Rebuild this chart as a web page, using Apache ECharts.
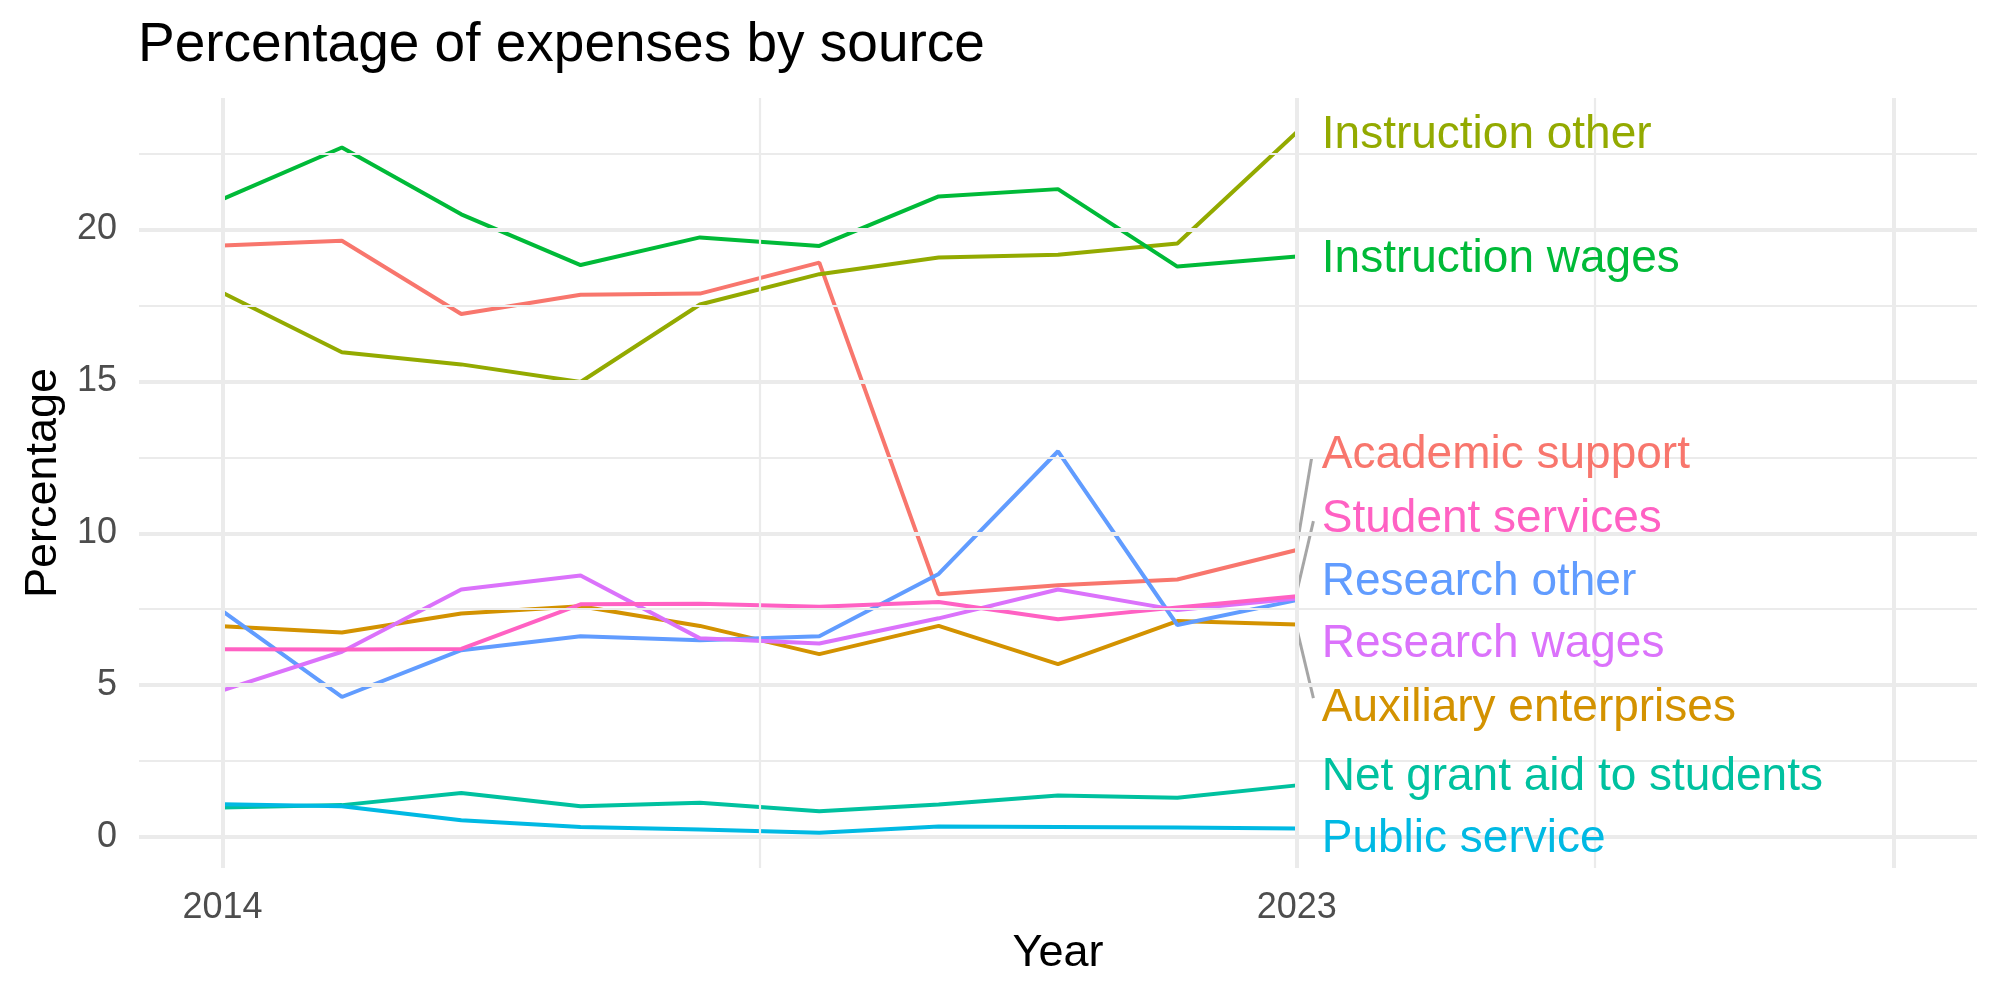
<!DOCTYPE html>
<html>
<head>
<meta charset="utf-8">
<title>Percentage of expenses by source</title>
<script src="https://cdn.jsdelivr.net/npm/echarts@6/dist/echarts.min.js"></script>
<style>
  html, body { margin: 0; padding: 0; background: #fff; }
  #chart { width: 2000px; height: 1000px; }
</style>
</head>
<body>
<div id="chart"></div>
<script>
// data
const years = [2014, 2015, 2016, 2017, 2018, 2019, 2020, 2021, 2022, 2023];

const academicSupport = [19.47, 19.63, 17.22, 17.85, 17.89, 18.91, 7.99, 8.29, 8.48, 9.45];
const auxiliaryEnterprises = [6.94, 6.73, 7.36, 7.60, 6.95, 6.02, 6.95, 5.69, 7.11, 7.00];
const instructionOther = [17.92, 15.96, 15.56, 14.98, 17.53, 18.53, 19.08, 19.17, 19.54, 23.20];
const instructionWages = [21.00, 22.70, 20.50, 18.83, 19.74, 19.46, 21.09, 21.33, 18.78, 19.11];
const netGrantAid = [0.97, 1.05, 1.45, 1.01, 1.13, 0.85, 1.07, 1.37, 1.29, 1.70];
const publicService = [1.08, 1.01, 0.55, 0.33, 0.25, 0.14, 0.35, 0.33, 0.31, 0.28];
const researchOther = [7.44, 4.61, 6.15, 6.61, 6.48, 6.61, 8.66, 12.70, 6.98, 7.80];
const researchWages = [4.83, 6.10, 8.15, 8.61, 6.54, 6.37, 7.20, 8.15, 7.47, 7.85];
const studentServices = [6.18, 6.17, 6.19, 7.66, 7.68, 7.58, 7.74, 7.17, 7.56, 7.93];

const sourceNames = ['Academic support', 'Auxiliary enterprises', 'Instruction other', 'Instruction wages',
  'Net grant aid to students', 'Public service', 'Research other', 'Research wages', 'Student services'];
const sourceValues = [academicSupport, auxiliaryEnterprises, instructionOther, instructionWages,
  netGrantAid, publicService, researchOther, researchWages, studentServices];
const sourceColors = ['#F8766D', '#D39200', '#93AA00', '#00BA38', '#00C19F', '#00B9E3', '#619CFF', '#DB72FB', '#FF61C3'];

// repelled label positions (x, y in data units)
const labelX = 2023.21;
const labelY = [12.56, 4.23, 23.1, 19.01, 1.97, -0.09, 8.39, 6.33, 10.46];

// connector segments for the labels that were pushed away [x0, y0, x1, y1]
const segments = [
  [2023, 9.55, 2023.126, 12.5],
  [2023, 8.06, 2023.14, 10.4],
  [2023, 6.87, 2023.14, 4.57]
];

// axis breaks
const xLabelBreaks = [2014, 2023];
const xMajor = [2014, 2023, 2028];
const xMinor = [2018.5, 2025.5];
const yMajor = [0, 5, 10, 15, 20];
const yMinor = [2.5, 7.5, 12.5, 17.5, 22.5];

const font = 'Liberation Sans, Arial, Helvetica, sans-serif';
const gridColor = '#EBEBEB';

var myChart = echarts.init(document.getElementById('chart'));

function gridLines() {
  const items = [];
  xMajor.forEach((v) => items.push({ xAxis: v, lineStyle: { width: 4 } }));
  xMinor.forEach((v) => items.push({ xAxis: v, lineStyle: { width: 2.2 } }));
  yMajor.forEach((v) => items.push({ yAxis: v, lineStyle: { width: 4 } }));
  yMinor.forEach((v) => items.push({ yAxis: v, lineStyle: { width: 2.2 } }));
  return items;
}

var option = {
  animation: false,
  backgroundColor: '#fff',
  title: {
    text: 'Percentage of expenses by source',
    left: 138,
    top: 18,
    padding: 0,
    textStyle: { fontFamily: font, fontSize: 55, fontWeight: 'normal', color: '#000', lineHeight: 55 }
  },
  grid: { left: 139, right: 23, top: 98, bottom: 132, containLabel: false, outerBoundsMode: 'none' },
  xAxis: {
    type: 'value',
    min: 2013.3,
    max: 2028.7,
    name: 'Year',
    nameLocation: 'middle',
    nameGap: 61,
    nameTextStyle: { fontFamily: font, fontSize: 45, color: '#000', lineHeight: 45 },
    axisLine: { show: false },
    axisTick: { show: false },
    splitLine: { show: false },
    axisLabel: {
      customValues: xLabelBreaks,
      margin: 22,
      fontFamily: font,
      fontSize: 36,
      lineHeight: 36,
      color: '#4D4D4D',
      formatter: (v) => String(v)
    }
  },
  yAxis: {
    type: 'value',
    min: -1.02,
    max: 24.33,
    name: 'Percentage',
    nameLocation: 'middle',
    nameGap: 72,
    nameTextStyle: { fontFamily: font, fontSize: 45, color: '#000', lineHeight: 45 },
    axisLine: { show: false },
    axisTick: { show: false },
    splitLine: { show: false },
    axisLabel: {
      customValues: yMajor,
      margin: 22,
      fontFamily: font,
      fontSize: 36,
      color: '#4D4D4D',
      formatter: (v) => String(v)
    }
  },
  series: []
};

// background grid lines
option.series.push({
  type: 'line',
  data: [],
  z: 1,
  silent: true,
  markLine: {
    silent: true,
    symbol: ['none', 'none'],
    label: { show: false },
    lineStyle: { color: gridColor, type: 'solid' },
    emphasis: { disabled: true },
    data: gridLines()
  }
});

// one line per source
for (var i = 0; i < sourceNames.length; i++) {
  option.series.push({
    name: sourceNames[i],
    type: 'line',
    z: 3,
    showSymbol: false,
    silent: true,
    lineStyle: { color: sourceColors[i], width: 4 },
    itemStyle: { color: sourceColors[i] },
    emphasis: { disabled: true },
    data: years.map((y, j) => [y, sourceValues[i][j]])
  });
}

// label connectors
segments.forEach((s) => {
  option.series.push({
    type: 'line',
    z: 4,
    showSymbol: false,
    silent: true,
    lineStyle: { color: '#A6A6A6', width: 3 },
    emphasis: { disabled: true },
    data: [[s[0], s[1]], [s[2], s[3]]]
  });
});

// direct labels
option.series.push({
  type: 'scatter',
  z: 5,
  silent: true,
  symbolSize: 0,
  itemStyle: { opacity: 1 },
  emphasis: { disabled: true },
  data: sourceNames.map((n, i) => ({
    value: [labelX, labelY[i]],
    name: n,
    itemStyle: { color: sourceColors[i], opacity: 1 },
    label: { color: sourceColors[i] }
  })),
  label: {
    show: true,
    position: 'right',
    distance: 0,
    formatter: (p) => p.name,
    fontFamily: font,
    fontSize: 46,
    align: 'left',
    verticalAlign: 'middle'
  }
});

myChart.setOption(option);
</script>
</body>
</html>
